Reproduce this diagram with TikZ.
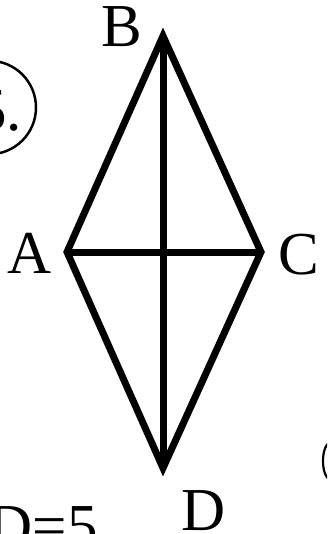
\documentclass[tikz,border=0pt]{standalone}
\usepackage{fontspec}
\setmainfont{Liberation Serif}
\begin{document}
\begin{tikzpicture}[x=1pt,y=-1pt,
  edge/.style={line width=7pt,line join=miter,miter limit=20,line cap=butt},
  lbl/.style={font=\fontsize{61}{63}\selectfont,inner sep=0pt}]
\useasboundingbox (0,0) rectangle (327,534);
\clip (0,0) rectangle (327,534);
\fill[white] (0,0) rectangle (327,534);
\coordinate (B) at (163,36);
\coordinate (A) at (67,252);
\coordinate (C) at (261,252);
\coordinate (D) at (163,468);
\draw[edge] (B) -- (C) -- (D) -- (A) -- cycle;
\draw[edge] (A) -- (C);
\draw[edge] (B) -- (D);
\node[lbl,anchor=base] (lB) at (122,47) {B};
\node[lbl,anchor=base] (lA) at (30,273) {A};
\node[lbl,anchor=base] (lC) at (299,274) {C};
\node[lbl,anchor=base] (lD) at (204,530) {D};
\node[lbl,anchor=base east] (lAD) at (98,546) {AD=5};
\draw[line width=2.5pt] (-10.75,107.5) circle (46.75);
\node[lbl,anchor=base east] (l5) at (22,131) {5.};
\draw[line width=2.2pt] (330,461) ellipse (7 and 18);
\end{tikzpicture}
\end{document}
